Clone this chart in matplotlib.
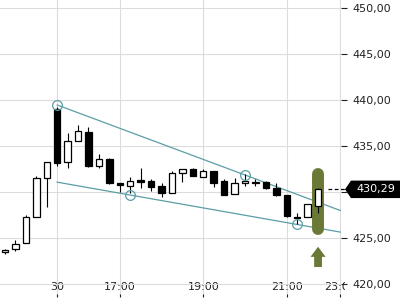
import matplotlib
matplotlib.use("Agg")
import matplotlib.pyplot as plt
from matplotlib.patches import Polygon, FancyArrow
from matplotlib.transforms import Bbox
import numpy as np

# ---- data ----
opens = [423.53, 423.77, 424.42, 427.25, 431.49, 439.02, 433.23, 435.51, 436.52, 432.83,
         433.55, 431.01, 430.65, 431.27, 431.16, 430.65, 429.86, 432.03, 432.47, 431.60,
         432.32, 431.23, 429.78, 430.95, 431.00, 431.12, 430.40, 429.67, 427.27, 427.25, 428.48]
closes = [423.75, 424.32, 427.25, 431.49, 433.23, 433.18, 435.51, 436.63, 432.86, 433.55,
          431.01, 430.73, 431.23, 431.12, 430.51, 429.92, 432.03, 432.47, 431.74, 432.32,
          431.01, 429.64, 430.95, 431.23, 431.05, 430.40, 429.67, 427.42, 427.20, 428.66, 430.29]
highs = [423.85, 424.75, 427.50, 431.74, 433.23, 439.27, 436.38, 437.28, 437.07, 434.16,
         433.66, 431.01, 431.60, 432.58, 431.45, 430.95, 432.32, 432.47, 432.58, 432.53,
         432.32, 431.38, 431.49, 431.96, 431.38, 431.20, 430.95, 429.67, 427.68, 428.66, 430.47]
lows = [423.30, 423.55, 424.42, 427.25, 428.40, 432.86, 432.58, 435.51, 432.75, 432.64,
        430.87, 430.03, 429.86, 430.40, 430.14, 429.42, 429.86, 431.05, 431.74, 431.60,
        430.51, 429.64, 429.78, 430.65, 430.68, 430.29, 429.57, 427.32, 426.49, 427.25, 427.68]

xtick_pos = [5, 11, 19, 27, 32.1]
xtick_labels = ["30", "17:00", "19:00", "21:00", "23:00"]
ytick_vals = [420, 425, 430, 435, 440, 445, 450]

upper_touch_x = [5, 23]
upper_touch_y = [439.46, 431.85]
lower_touch_x = [12, 28]
lower_touch_y = [429.67, 426.47]
trend_start_x = 5

last_price = 430.29
signal_index = 30
signal_top = 431.96
signal_bottom = 425.98

# ---- style ----
teal = "#5b9ea6"
green = "#6a7a36"
grid_c = "#dcdcdc"

fig = plt.figure(figsize=(4, 3), dpi=100)
ax = fig.add_axes([0, 3/300, 341/400, 297/300])
xmin, xmax = -0.48, 32.2
ax.set_xlim(xmin, xmax)
ax.set_ylim(418.587, 450.87)

for s in ax.spines.values():
    s.set_visible(False)

ax.set_xticks(xtick_pos)
ax.set_xticklabels(xtick_labels)
ax.set_yticks(ytick_vals)
# the 430 label sits under the last-price box in the reference
ax.set_yticklabels(["" if v == 430 else f"{v:.2f}".replace(".", ",") for v in ytick_vals])
ax.yaxis.tick_right()
ax.tick_params(axis="y", direction="out", length=4, width=0.8, pad=4,
               labelsize=8, colors="#222222")
ax.tick_params(axis="x", direction="in", length=2.5, width=0.8, pad=-11,
               labelsize=8, colors="#222222")
ax.grid(True, color=grid_c, linewidth=0.8, zorder=0)
ax.set_axisbelow(True)

# clip the last x label at the axis boundary
fig.canvas.draw()
clipbox = Bbox.from_extents(0, 0, 345, 300)
for lab in ax.get_xticklabels():
    lab.set_clip_box(clipbox)
    lab.set_clip_on(True)

x = np.arange(len(opens))

# trend lines
def trend(tx, ty):
    slope = (ty[1] - ty[0]) / (tx[1] - tx[0])
    xs = trend_start_x
    xe = 32.7
    return [xs, xe], [ty[0] + slope * (xs - tx[0]), ty[0] + slope * (xe - tx[0])]

for tx, ty in [(upper_touch_x, upper_touch_y), (lower_touch_x, lower_touch_y)]:
    lx, ly = trend(tx, ty)
    ax.plot(lx, ly, color=teal, linewidth=0.9, zorder=2, clip_on=True)
    ax.plot(tx, ty, "o", ms=7, mfc="none", mec=teal, mew=0.9, zorder=5)

# signal bar
ax.plot([signal_index, signal_index], [signal_top, signal_bottom], color=green,
        linewidth=8.6, solid_capstyle="round", zorder=3)
# arrow
ax.add_patch(FancyArrow(signal_index, 421.85, 0, 2.2, width=0.75, head_width=1.45,
                        head_length=1.1, length_includes_head=True,
                        color=green, linewidth=0, zorder=3))

# candles
ax.vlines(x, lows, highs, color="black", linewidth=0.8, zorder=4)
o = np.array(opens); c = np.array(closes)
bottoms = np.minimum(o, c)
heights = np.maximum(np.abs(c - o), 0.02)
fills = ["black" if cc < oo else "white" for oo, cc in zip(o, c)]
ax.bar(x, heights, bottom=bottoms, width=0.62, color=fills, edgecolor="black",
       linewidth=0.9, zorder=4)

# last price dashed line and label
ax.plot([signal_index + 0.95, 32.65], [last_price, last_price], color="black",
        linewidth=0.9, linestyle=(0, (3, 2)), zorder=4, clip_on=False)
tr = ax.get_yaxis_transform()
hh = 0.95
px = 1 / 341
poly = Polygon([[345 * px, last_price], [351 * px, last_price + hh],
                [400 * px, last_price + hh], [400 * px, last_price - hh],
                [351 * px, last_price - hh]], closed=True, transform=tr,
               facecolor="black", edgecolor="none", clip_on=False, zorder=6)
ax.add_patch(poly)
ax.text(376 * px, last_price, f"{last_price:.2f}".replace(".", ","), transform=tr,
        color="white", fontsize=8, ha="center", va="center", zorder=7, clip_on=False)

fig.savefig("out.png", dpi=100)
